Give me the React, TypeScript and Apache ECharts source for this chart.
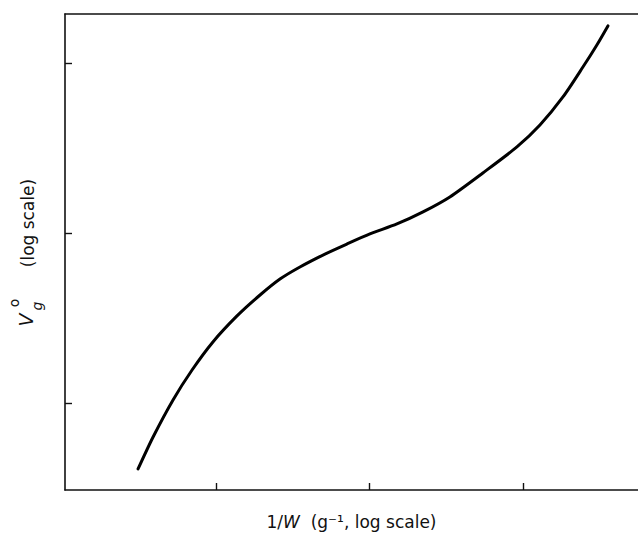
import React, { useEffect, useRef } from "react";
import * as echarts from "echarts";

// Curve, in log-decade units (tick positions at 1, 2, 3)
const xValues = [0.492, 0.59, 0.72, 0.844, 0.98, 1.137, 1.287, 1.417, 1.547, 1.71, 1.853, 2.003, 2.179, 2.349, 2.524, 2.739, 2.961, 3.111, 3.261, 3.391, 3.482, 3.554];
const yValues = [0.612, 0.8, 1.018, 1.194, 1.359, 1.512, 1.635, 1.729, 1.8, 1.876, 1.935, 1.994, 2.053, 2.124, 2.212, 2.353, 2.506, 2.635, 2.8, 2.976, 3.106, 3.218];
const xTicks = [1, 2, 3];
const yTicks = [1, 2, 3];

const X_MIN = 0.016;
const X_MAX = 3.75;
const Y_MIN = 0.488;
const Y_MAX = 3.288;

const FONT = "DejaVu Sans";

export default function App() {
  const ref = useRef<HTMLDivElement>(null);

  useEffect(() => {
    document.body.style.margin = "0";
    if (!ref.current) return;
    const chart = echarts.init(ref.current, undefined, { renderer: "svg" });
    const lineColor = "#111";
    chart.setOption({
      animation: false,
      backgroundColor: "#fff",
      grid: { left: 65, right: 0, top: 14, bottom: 46, outerBoundsMode: "none", containLabel: false },
      xAxis: [
        {
          type: "value",
          min: X_MIN,
          max: X_MAX,
          position: "bottom",
          axisLine: { show: true, lineStyle: { color: lineColor, width: 1.6 } },
          axisTick: {
            show: true,
            inside: true,
            length: 7,
            customValues: xTicks,
            lineStyle: { color: lineColor, width: 1.4 },
          },
          axisLabel: { show: false },
          splitLine: { show: false },
          name: "{n|1/}{w|W}{n|  (g⁻¹, log scale)}",
          nameLocation: "middle",
          nameGap: 23,
          nameTextStyle: {
            rich: {
              n: { fontFamily: FONT, fontSize: 17, color: "#111" },
              w: { fontFamily: FONT, fontSize: 17, fontStyle: "italic", color: "#111" },
            },
          },
        },
        {
          type: "value",
          min: X_MIN,
          max: X_MAX,
          position: "top",
          axisLine: { show: true, lineStyle: { color: lineColor, width: 1.6 } },
          axisTick: { show: false },
          axisLabel: { show: false },
          splitLine: { show: false },
        },
      ],
      yAxis: {
        type: "value",
        min: Y_MIN,
        max: Y_MAX,
        axisLine: { show: true, lineStyle: { color: lineColor, width: 1.6 } },
        axisTick: {
          show: true,
          inside: true,
          length: 7,
          customValues: yTicks,
          lineStyle: { color: lineColor, width: 1.4 },
        },
        axisLabel: { show: false },
        splitLine: { show: false },
      },
      graphic: [
        {
          type: "text",
          x: 28,
          y: 223,
          rotation: Math.PI / 2,
          style: {
            text: "(log scale)",
            fontFamily: FONT,
            fontSize: 17,
            fill: "#111",
            align: "center",
            verticalAlign: "middle",
          },
        },
        {
          type: "text",
          x: 26,
          y: 320,
          rotation: Math.PI / 2,
          style: {
            text: "V",
            fontFamily: FONT,
            fontSize: 19,
            fontStyle: "italic",
            fill: "#111",
            align: "center",
            verticalAlign: "middle",
          },
        },
        {
          type: "text",
          x: 14,
          y: 303,
          rotation: Math.PI / 2,
          style: {
            text: "o",
            fontFamily: FONT,
            fontSize: 14,
            fill: "#111",
            align: "center",
            verticalAlign: "middle",
          },
        },
        {
          type: "text",
          x: 37,
          y: 306,
          rotation: Math.PI / 2,
          style: {
            text: "g",
            fontFamily: FONT,
            fontSize: 14,
            fontStyle: "italic",
            fill: "#111",
            align: "center",
            verticalAlign: "middle",
          },
        },
      ],
      series: [
        {
          type: "line",
          xAxisIndex: 0,
          data: xValues.map((x, i) => [x, yValues[i]]),
          smooth: 0.25,
          showSymbol: false,
          lineStyle: { color: "#000", width: 3, cap: "round" },
        },
      ],
    });
    return () => chart.dispose();
  }, []);

  return <div ref={ref} style={{ width: 638, height: 536 }} />;
}
